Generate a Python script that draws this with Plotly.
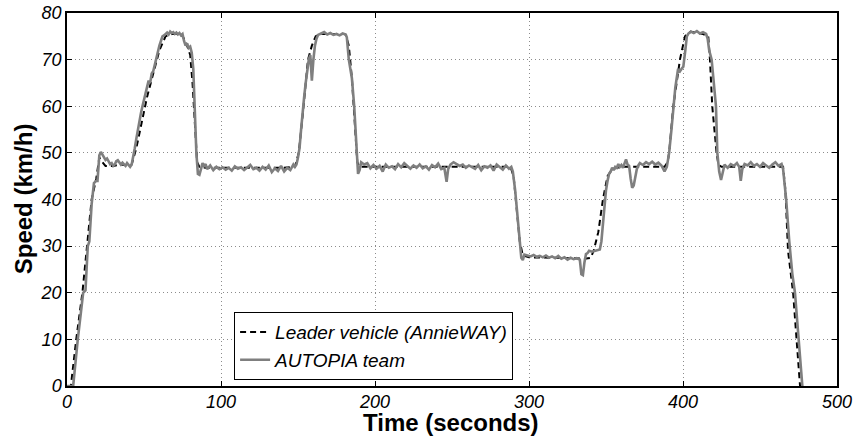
import plotly.graph_objects as go

# Leader vehicle (AnnieWAY) - dashed black
leader_t = [0, 2.5, 6, 10, 13, 16, 19, 21, 23, 25, 30, 35, 40, 42, 45, 48, 52, 56, 60, 64, 68, 74, 76, 78, 80,
            81.5, 83, 84.5, 86, 90, 100, 120, 140, 148, 150.5, 153, 156.5, 159, 161.5, 165, 180, 181, 183, 185,
            187, 188.5, 190, 200, 250, 288, 290, 292, 294, 296, 300, 320, 333, 336, 340, 342, 345, 348, 351,
            354, 360, 375, 388, 390, 391, 393.7, 396, 398, 401.3, 405, 413, 416.4, 417.5, 419, 421.8, 423, 425,
            430, 450, 465, 466.5, 468.2, 471.5, 474, 476]
leader_v = [0, 0, 10, 20, 30, 40, 44.5, 49, 48, 47.2, 47.2, 47.5, 47.3, 47.5, 51, 56, 62, 67, 72, 75, 75.5, 75.5,
            74.5, 73, 71, 65, 55, 48, 47, 46.8, 46.8, 46.8, 46.8, 47, 50, 58, 70, 73, 75, 75.5, 75.5, 75.3, 73,
            66, 55, 48, 47, 47, 47, 47, 45, 38, 31, 28, 27.6, 27.5, 27.3, 27.3, 27.5, 29, 33, 40, 45, 46.5, 47,
            47, 47, 48, 50, 60, 66, 70, 75, 76, 75.5, 75, 70, 60, 50, 47.5, 47, 47, 47, 47, 42, 29, 20, 9, 0]

# AUTOPIA team - solid gray
autopia_t = [0, 4, 7, 10.5, 12, 13.5, 14.5, 16, 17.5, 19, 19.8, 21, 22, 23, 24, 25, 26, 27, 28, 29, 30, 31, 32,
             33, 34, 35, 36, 37, 38, 39, 40, 41, 42,
             43, 44, 45, 46, 47, 48, 49, 50, 51, 52, 53, 54, 55, 56, 57, 58, 59, 60, 61, 62, 63, 64, 65, 66,
             67, 68, 69, 70, 71, 72, 73, 74, 75, 76, 77, 78, 79, 80, 81, 82, 83, 84, 85, 86, 87, 88, 89, 90,
             91, 93, 95, 97, 99, 101, 103, 105, 107, 109, 111, 113, 115, 117, 119, 121, 123, 125, 127, 129,
             131, 133, 135, 137, 139, 141, 143, 145, 147, 148,
             149, 150, 151, 152, 153, 154, 155, 156, 157, 158, 159, 160, 161, 162, 163, 165, 167, 169, 171,
             173, 175, 177, 179, 181, 181.7, 183, 185, 186.5, 188, 189, 190, 191,
             193, 195, 197, 199, 201, 203, 205, 207, 209, 211, 213, 215, 217, 219, 221, 223, 225, 227, 229,
             231, 233, 235, 237, 239, 241, 243, 245, 246.5, 247.5, 249, 251, 253, 255, 257, 259, 261, 263,
             265, 267, 269, 271, 273, 275, 277, 279, 281, 283, 285, 287, 288.5, 289.5,
             291, 292, 293, 294, 295, 296, 297, 299, 301, 303, 305, 307, 309, 311, 313, 315, 317, 319, 321,
             323, 325, 327, 329, 331, 333, 334, 335, 336, 337, 338, 339, 341, 343, 345, 346,
             347, 348, 349, 350, 351, 352, 353, 354, 355, 356, 357, 358, 359, 360, 361, 362, 363, 364, 365,
             366, 367, 368, 369, 370, 371, 372, 374, 376, 378, 380, 382, 384, 386, 388, 389.5,
             391, 392.5, 393.7, 395, 396.8, 398, 399, 400.2, 401.5, 402.5, 403.5, 405, 407, 409, 411, 413, 415,
             416, 417, 418.6, 420, 421.4, 422.3, 423.5, 424.7, 426,
             427, 429, 431, 433, 435, 436.5, 437.5, 438.5, 440, 442, 444, 446, 448, 450, 452, 454, 456, 458,
             460, 462, 464, 465, 467, 469, 471, 472.7, 475, 477.5]
autopia_v = [0, 0, 10, 20, 20.5, 30, 31, 39, 43.5, 44, 44, 49.5, 50.2, 49.6, 49.3, 48.5, 48.8, 48, 47.6, 47.8,
             47.2, 47.5, 48.2, 48.4, 47.8, 47.5, 47.9, 47.6, 47.2, 47.8, 47.3, 47.0, 47.5,
             49, 51, 53, 55, 57, 58.5, 60, 61.5, 63, 64, 65.5, 65, 67, 67.5, 69, 70.5, 71.5, 73, 74, 75, 75.2,
             75.5, 75.8, 75.4, 76, 75.7, 75.9, 75.5, 75.8, 75.4, 75.7, 75.2, 75.5, 74, 73, 73.5, 72.5, 72.8,
             71.5, 68, 58, 50, 45.5, 45.3, 46.5, 47.8, 47.2, 47.6,
             46.5, 47.3, 46.3, 47, 46.5, 46.9, 46.4, 46.8, 46.2, 47.1, 46.6, 46.9, 46.3, 46.9, 47.4, 46.5,
             46.8, 46.2, 47, 46.4, 47.3, 45.9, 46.7, 46.1, 47.2, 46, 46.8, 46.3, 47.5, 47,
             47.5, 49, 51, 55, 59, 62, 65, 68, 70, 71, 65.5, 70, 73, 74.5, 75.3, 75.6, 75.9, 75.4, 75.7, 75.3,
             75.5, 75.2, 75.6, 75.4, 74.8, 70, 66, 60, 50, 45.5, 46.3, 48,
             47.5, 47.8, 46.7, 47.4, 46.6, 47.2, 46, 47.5, 46.8, 47.1, 46.5, 47.6, 46.9, 47.8, 47.2, 46.6,
             47.3, 46.8, 47.5, 46.7, 47.1, 46.4, 47.4, 46.9, 47.7, 46.5, 46.8, 43.8, 46.5, 47.5, 48, 47.6,
             47.2, 47.5, 46.8, 47.3, 47, 46.6, 47.4, 46.3, 47.1, 46.8, 47.3, 46.2, 47.5, 47, 46.4, 47.3, 46.6,
             47, 46,
             42, 38, 34, 30, 27.5, 27, 28.2, 28, 27.8, 28.1, 27.7, 27.9, 27.6, 28, 27.5, 27.8, 27.4, 27.9,
             27.3, 27.6, 27.1, 27.5, 27.2, 27.4, 27.1, 24, 23.8, 26.5, 28.3, 28.5, 29, 28.8, 29, 29.2, 29.3,
             31, 35, 39, 42, 44, 45.5, 46, 46.8, 46.3, 47, 46.8, 47.6, 47, 47.4, 46.8, 48, 48.6, 47.5, 47.2,
             44.5, 42.5, 43, 45, 46.5, 47.3, 47.8, 47.4, 48, 47.6, 48.1, 47.5, 47.9, 47.3, 46, 47,
             50, 55, 60, 64, 68, 67.5, 68, 68.5, 72, 75, 75.6, 76, 75.7, 76.1, 75.6, 75.9, 75.5, 74.5, 72,
             70, 65, 60, 50, 46, 44.2, 46.5,
             47.5, 46.8, 47.6, 47.2, 47.8, 47, 44, 46.5, 47.6, 47.3, 48, 47.2, 47.6, 47, 47.8, 47.3, 46.8,
             47.5, 48, 47.2, 47.6, 46.5, 40, 31, 24, 20, 10, 0]

x_ticks = [0, 100, 200, 300, 400, 500]
y_ticks = [0, 10, 20, 30, 40, 50, 60, 70, 80]

FONT = "Liberation Sans, Arial, Helvetica, sans-serif"

fig = go.Figure()
fig.add_trace(go.Scatter(
    x=leader_t, y=leader_v, mode="lines", name="Leader vehicle (AnnieWAY)",
    line=dict(color="black", width=2, dash="6px,4px"),
))
fig.add_trace(go.Scatter(
    x=autopia_t, y=autopia_v, mode="lines", name="AUTOPIA team",
    line=dict(color="#7f7f7f", width=2.6),
))

axis_common = dict(
    showline=True, linecolor="black", linewidth=1.5, mirror="ticks",
    ticks="inside", ticklen=5, tickwidth=1, tickcolor="black",
    showgrid=True, gridcolor="#8c8c8c", griddash="1px,3px", gridwidth=1,
    zeroline=False, automargin=False, ticklabeloverflow="allow",
    tickfont=dict(family=FONT, size=18, color="black", style="italic"),
)

fig.update_xaxes(range=[0, 500], tickvals=x_ticks, ticktext=[str(v) for v in x_ticks],
                 ticklabelstandoff=-1, **axis_common)
fig.update_yaxes(range=[0, 80], tickvals=y_ticks, ticktext=[str(v) for v in y_ticks], **axis_common)

title_font = dict(family=FONT, size=24, color="black", weight="bold")
fig.add_annotation(text="Time (seconds)", xref="paper", yref="paper", x=0.499, y=-0.099,
                   xanchor="center", yanchor="middle", showarrow=False, font=title_font)
fig.add_annotation(text="Speed (km/h)", xref="paper", yref="paper", x=-0.056, y=0.503,
                   xanchor="center", yanchor="middle", showarrow=False, textangle=-90, font=title_font)

fig.update_layout(
    width=857, height=437,
    margin=dict(l=67, r=20, t=13, b=51),
    plot_bgcolor="white", paper_bgcolor="white",
    showlegend=True,
    legend=dict(
        x=0.217, y=0.198, xanchor="left", yanchor="top",
        bgcolor="white", bordercolor="black", borderwidth=1,
        font=dict(family=FONT, size=19, color="black", style="italic"),
        itemwidth=30, tracegroupgap=0,
    ),
)

# remove the default 8px page margin so the figure fills the window exactly
fig.write_html("out.html", config={"displayModeBar": False},
               post_script="document.body.style.margin='0';")
